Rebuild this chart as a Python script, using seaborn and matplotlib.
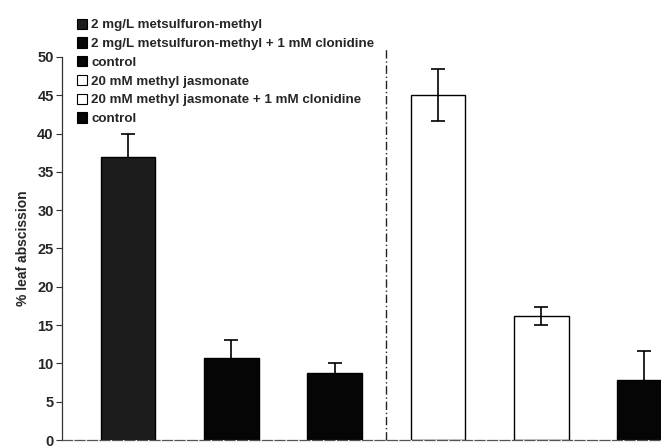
import matplotlib
matplotlib.use("Agg")
import matplotlib.pyplot as plt
import seaborn as sns
import pandas as pd
from matplotlib.patches import Patch

keys = ["m", "mc", "c1", "j", "jc", "c2"]
labels = ["2 mg/L metsulfuron-methyl",
          "2 mg/L metsulfuron-methyl + 1 mM clonidine",
          "control",
          "20 mM methyl jasmonate",
          "20 mM methyl jasmonate + 1 mM clonidine",
          "control"]
values = [37.0, 10.7, 8.7, 45.0, 16.2, 7.8]
errors = [3.0, 2.3, 1.3, 3.4, 1.2, 3.8]
colors = ["#1c1c1c", "#050505", "#050505", "#ffffff", "#ffffff", "#050505"]
yticks = [0, 5, 10, 15, 20, 25, 30, 35, 40, 45, 50]

sns.set_theme(style="white")
plt.rcParams["font.family"] = ["Liberation Sans", "DejaVu Sans"]

fig = plt.figure(figsize=(6.61, 4.48), dpi=100)
ax = fig.add_axes([62/661, 8/448, 1 - 62/661, 383/448])

df = pd.DataFrame({"k": keys, "v": values})
sns.barplot(data=df, x="k", y="v", hue="k", palette=colors, order=keys,
            hue_order=keys, legend=False, width=0.53, edgecolor="black",
            linewidth=1.0, ax=ax, errorbar=None, saturation=1)
for p in ax.patches:
    p.set_zorder(2)
for i, (v, e, c) in enumerate(zip(values, errors, colors)):
    ax.errorbar([i], [v], yerr=[e], fmt="none", ecolor="black",
                elinewidth=1.2, capsize=5, capthick=1.2,
                zorder=3 if c == "#ffffff" else 1)

ax.axvline(2.5, ymin=0, ymax=1.02, color="#222222", lw=1.0,
           linestyle=(0, (6, 2, 1, 2)), clip_on=False)

ax.set_xlim(-0.64, 5.16)
ax.set_ylim(0, 50)
ax.set_yticks(yticks)
ax.set_yticklabels([str(t) for t in yticks], fontsize=10.5, fontweight="bold")
ax.set_xticks([])
ax.set_xlabel("")
ax.set_ylabel("% leaf abscission", fontsize=10, fontweight="bold", labelpad=5)
ax.tick_params(axis="y", direction="out", length=4, width=0.8, left=True,
               color="#333333", pad=2)
for s in ["top", "right"]:
    ax.spines[s].set_visible(False)
ax.spines["left"].set_color("#333333")
ax.spines["left"].set_linewidth(0.9)
ax.spines["bottom"].set_color("#555555")
ax.spines["bottom"].set_linewidth(0.9)
ax.spines["bottom"].set_linestyle((0, (8, 2)))

handles = [Patch(facecolor=c, edgecolor="black", linewidth=0.8) for c in colors]
leg = fig.legend(handles, labels, loc="upper left",
                 bbox_to_anchor=(70/661, 1 - 12/448), frameon=False,
                 handlelength=0.8, handleheight=0.8,
                 handletextpad=0.3, labelspacing=0.45, borderpad=0,
                 prop={"weight": "bold", "size": 9.6})

fig.savefig("out.png", dpi=100)
